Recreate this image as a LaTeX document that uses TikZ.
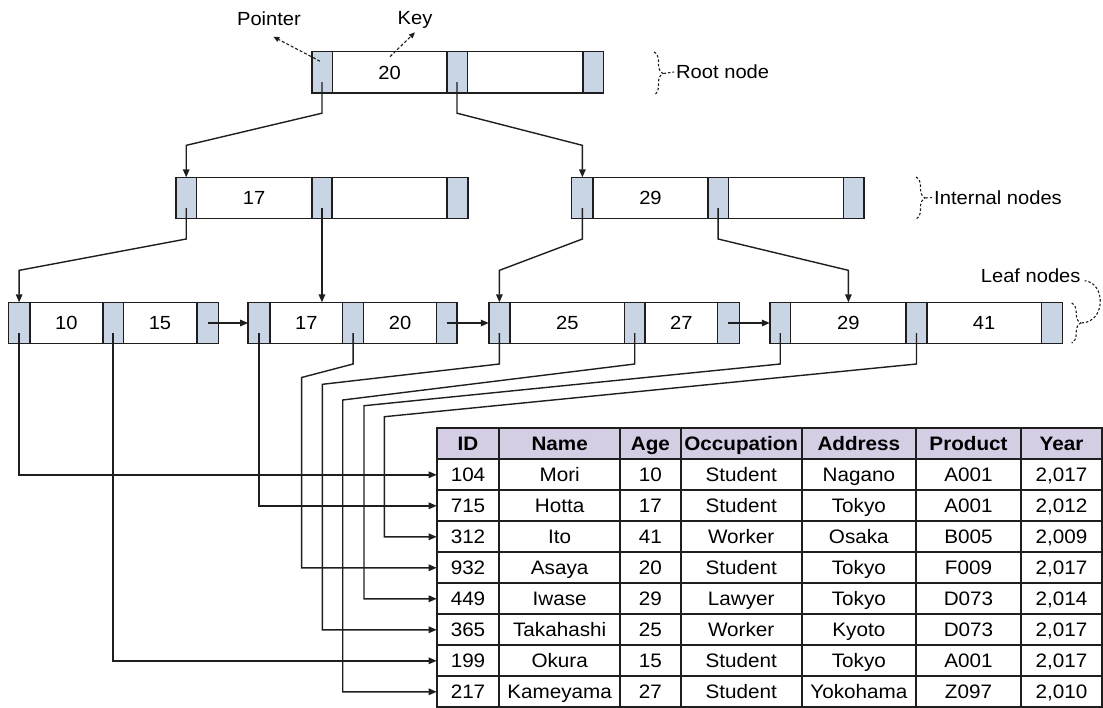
\documentclass[tikz,border=0pt]{standalone}
\usepackage{fontspec}
\setmainfont{Liberation Sans}[FakeStretch=1.06]
\usetikzlibrary{arrows.meta,calc,decorations.pathreplacing}
\definecolor{ptrfill}{RGB}{201,213,229}
\definecolor{hdrfill}{RGB}{213,205,227}
\definecolor{edge}{RGB}{30,30,30}
\tikzset{
 cell/.style={draw=edge, line width=1.6pt, minimum height=41.3pt, inner sep=0pt, outer sep=0pt, text height=13.8pt, text depth=0pt, font=\fontsize{19}{22}\selectfont},
 ptr/.style={cell, fill=ptrfill},
 key/.style={cell, fill=white},
 link/.style={draw=edge, line width=1.4pt, -{Triangle[length=8pt,width=6.5pt]}},
 tcell/.style={draw=edge, line width=1.8pt, minimum height=31pt, inner sep=0pt, outer sep=0pt, text height=14pt, text depth=0pt, font=\fontsize{19.5}{22}\selectfont},
 hcell/.style={tcell, fill=hdrfill, font=\fontsize{19.5}{22}\selectfont\bfseries},
 note/.style={font=\fontsize{19}{22}\selectfont, inner sep=0pt},
 dashlink/.style={draw=edge, line width=1.1pt, dash pattern=on 3pt off 2pt, -{Triangle[length=6pt,width=5pt]}},
 dashline/.style={draw=edge, line width=1.1pt, dash pattern=on 2.5pt off 2pt},
 bracestyle/.style={dashline, decorate, decoration={brace, amplitude=9pt}},
}
\newcommand\bcell[6]{\node[#1, minimum width={(#4-#3)*1pt}] (#2) at ({(#3+#4)/2},{#5}) {#6};}
\newcommand\trow[9]{%
 \bcell{#1}{id#2}{436.7}{499.3}{443.8+31*#2}{#3}
 \bcell{#1}{nm#2}{499.3}{620}{443.8+31*#2}{#4}
 \bcell{#1}{ag#2}{620}{680.7}{443.8+31*#2}{#5}
 \bcell{#1}{oc#2}{680.7}{801.7}{443.8+31*#2}{#6}
 \bcell{#1}{ad#2}{801.7}{916}{443.8+31*#2}{#7}
 \bcell{#1}{pr#2}{916}{1021}{443.8+31*#2}{#8}
 \bcell{#1}{yr#2}{1021}{1102}{443.8+31*#2}{#9}
}
\begin{document}
\begin{tikzpicture}[x=1pt,y=-1pt]
\useasboundingbox (0,0) rectangle (1103,707);
\clip (0,0) rectangle (1103,707);
% root
\bcell{ptr}{r-p1}{311.7}{332.3}{72.2}{}
\bcell{key}{r-k1}{332.3}{446.7}{72.2}{20}
\bcell{ptr}{r-p2}{446.7}{467.3}{72.2}{}
\bcell{key}{r-k2}{467.3}{582.7}{72.2}{}
\bcell{ptr}{r-p3}{582.7}{603.3}{72.2}{}
% internal left
\bcell{ptr}{il-p1}{176}{196.4}{198}{}
\bcell{key}{il-k1}{196.4}{311.8}{198}{17}
\bcell{ptr}{il-p2}{311.8}{332.1}{198}{}
\bcell{key}{il-k2}{332.1}{447.1}{198}{}
\bcell{ptr}{il-p3}{447.1}{467.9}{198}{}
% internal right
\bcell{ptr}{ir-p1}{571.6}{593.2}{198}{}
\bcell{key}{ir-k1}{593.2}{707.7}{198}{29}
\bcell{ptr}{ir-p2}{707.7}{728.5}{198}{}
\bcell{key}{ir-k2}{728.5}{843.4}{198}{}
\bcell{ptr}{ir-p3}{843.4}{864.2}{198}{}
% leaf 1
\bcell{ptr}{l1-p1}{8.3}{30}{323}{}
\bcell{key}{l1-k1}{30}{102.7}{323}{10}
\bcell{ptr}{l1-p2}{102.7}{123.3}{323}{}
\bcell{key}{l1-k2}{123.3}{196.7}{323}{15}
\bcell{ptr}{l1-p3}{196.7}{218.3}{323}{}
% leaf 2
\bcell{ptr}{l2-p1}{248.2}{270}{323}{}
\bcell{key}{l2-k1}{270}{342.5}{323}{17}
\bcell{ptr}{l2-p2}{342.5}{363.6}{323}{}
\bcell{key}{l2-k2}{363.6}{436.4}{323}{20}
\bcell{ptr}{l2-p3}{436.4}{457.1}{323}{}
% leaf 3
\bcell{ptr}{l3-p1}{488.8}{510}{323}{}
\bcell{key}{l3-k1}{510}{624.5}{323}{25}
\bcell{ptr}{l3-p2}{624.5}{645}{323}{}
\bcell{key}{l3-k2}{645}{717.6}{323}{27}
\bcell{ptr}{l3-p3}{717.6}{739.3}{323}{}
% leaf 4
\bcell{ptr}{l4-p1}{769.8}{790.6}{323}{}
\bcell{key}{l4-k1}{790.6}{906.2}{323}{29}
\bcell{ptr}{l4-p2}{906.2}{926.7}{323}{}
\bcell{key}{l4-k2}{926.7}{1041.6}{323}{41}
\bcell{ptr}{l4-p3}{1041.6}{1062.4}{323}{}
% table
\trow{hcell}{0}{ID}{Name}{Age}{Occupation}{Address}{Product}{Year}
\trow{tcell}{1}{104}{Mori}{10}{Student}{Nagano}{A001}{2,017}
\trow{tcell}{2}{715}{Hotta}{17}{Student}{Tokyo}{A001}{2,012}
\trow{tcell}{3}{312}{Ito}{41}{Worker}{Osaka}{B005}{2,009}
\trow{tcell}{4}{932}{Asaya}{20}{Student}{Tokyo}{F009}{2,017}
\trow{tcell}{5}{449}{Iwase}{29}{Lawyer}{Tokyo}{D073}{2,014}
\trow{tcell}{6}{365}{Takahashi}{25}{Worker}{Kyoto}{D073}{2,017}
\trow{tcell}{7}{199}{Okura}{15}{Student}{Tokyo}{A001}{2,017}
\trow{tcell}{8}{217}{Kameyama}{27}{Student}{Yokohama}{Z097}{2,010}
% labels
\node[note] (ptrlbl) at (269,19) {Pointer};
\node[note] (keylbl) at (415,20) {Key};
\node[note, anchor=west] (rootlbl) at (676,72) {Root node};
\node[note, anchor=west] (intlbl) at (934,197.5) {Internal nodes};
\node[note] (leaflbl) at (1030.7,275.7) {Leaf nodes};
\coordinate (ptip) at (273.3,36.7);
\coordinate (ktip) at (415,32.3);
\draw[dashlink] ($(r-p1.center)+(-2,-11)$) -- (ptip);
\draw[dashlink] ($(r-k1.center)+(0.5,-15.5)$) -- (ktip);
% braces
\draw[bracestyle] (654,52) -- (654,95);
\draw[dashline] (663.5,73.5) -- ($(rootlbl.west)+(-2,0)$);
\draw[bracestyle] (916,177) -- (916,219);
\draw[dashline] (925.5,198) -- ($(intlbl.west)+(-2,0)$);
\draw[bracestyle] (1071.7,303) -- (1071.7,343);
\draw[dashline] (1081.5,323) .. controls (1106,322) and (1106,283) .. ($(leaflbl.east)+(4,5)$);
% tree connectors
\draw[link] ($(r-p1.center)+(0,10)$) -- ($(r-p1.center)+(0,41)$) -- ($(il-p1.north)+(0,-32)$) -- (il-p1.north);
\draw[link] ($(r-p2.center)+(0,10)$) -- ($(r-p2.center)+(0,41)$) -- ($(ir-p1.north)+(0,-32)$) -- (ir-p1.north);
\draw[link] ($(il-p1.center)+(0,10)$) -- ($(il-p1.center)+(0,41)$) -- ($(l1-p1.north)+(0,-32)$) -- (l1-p1.north);
\draw[link] ($(il-p2.center)+(0,10)$) -- (il-p2.center |- l2-k1.north);
\draw[link] ($(ir-p1.center)+(0,10)$) -- ($(ir-p1.center)+(0,41)$) -- ($(l3-p1.north)+(0,-32)$) -- (l3-p1.north);
\draw[link] ($(ir-p2.center)+(0,10)$) -- ($(ir-p2.center)+(0,41)$) -- ($(l4-k1.north)+(0,-32)$) -- (l4-k1.north);
% sibling links
\draw[link] (l1-p3.center) -- (l2-p1.west);
\draw[link] (l2-p3.center) -- (l3-p1.west);
\draw[link] (l3-p3.center) -- (l4-p1.west);
% leaf to table
\coordinate (b4) at (301.6,377.5);
\coordinate (b6) at (322.4,384.3);
\coordinate (b8) at (342.7,400);
\coordinate (b5) at (364,405.7);
\coordinate (b3) at (384.4,416.7);
\draw[link] ($(l1-p1.center)+(0,10)$) |- (id1.west);
\draw[link] ($(l1-p2.center)+(0,10)$) |- (id7.west);
\draw[link] ($(l2-p1.center)+(0,10)$) |- (id2.west);
\draw[link] ($(l2-p2.center)+(0,10)$) -- ($(l2-p2.center)+(0,41)$) -- (b4) |- (id4.west);
\draw[link] ($(l3-p1.center)+(0,10)$) -- ($(l3-p1.center)+(0,41)$) -- (b6) |- (id6.west);
\draw[link] ($(l3-p2.center)+(0,10)$) -- ($(l3-p2.center)+(0,41)$) -- (b8) |- (id8.west);
\draw[link] ($(l4-p1.center)+(0,10)$) -- ($(l4-p1.center)+(0,41)$) -- (b5) |- (id5.west);
\draw[link] ($(l4-p2.center)+(0,10)$) -- ($(l4-p2.center)+(0,41)$) -- (b3) |- (id3.west);
\end{tikzpicture}
\end{document}
